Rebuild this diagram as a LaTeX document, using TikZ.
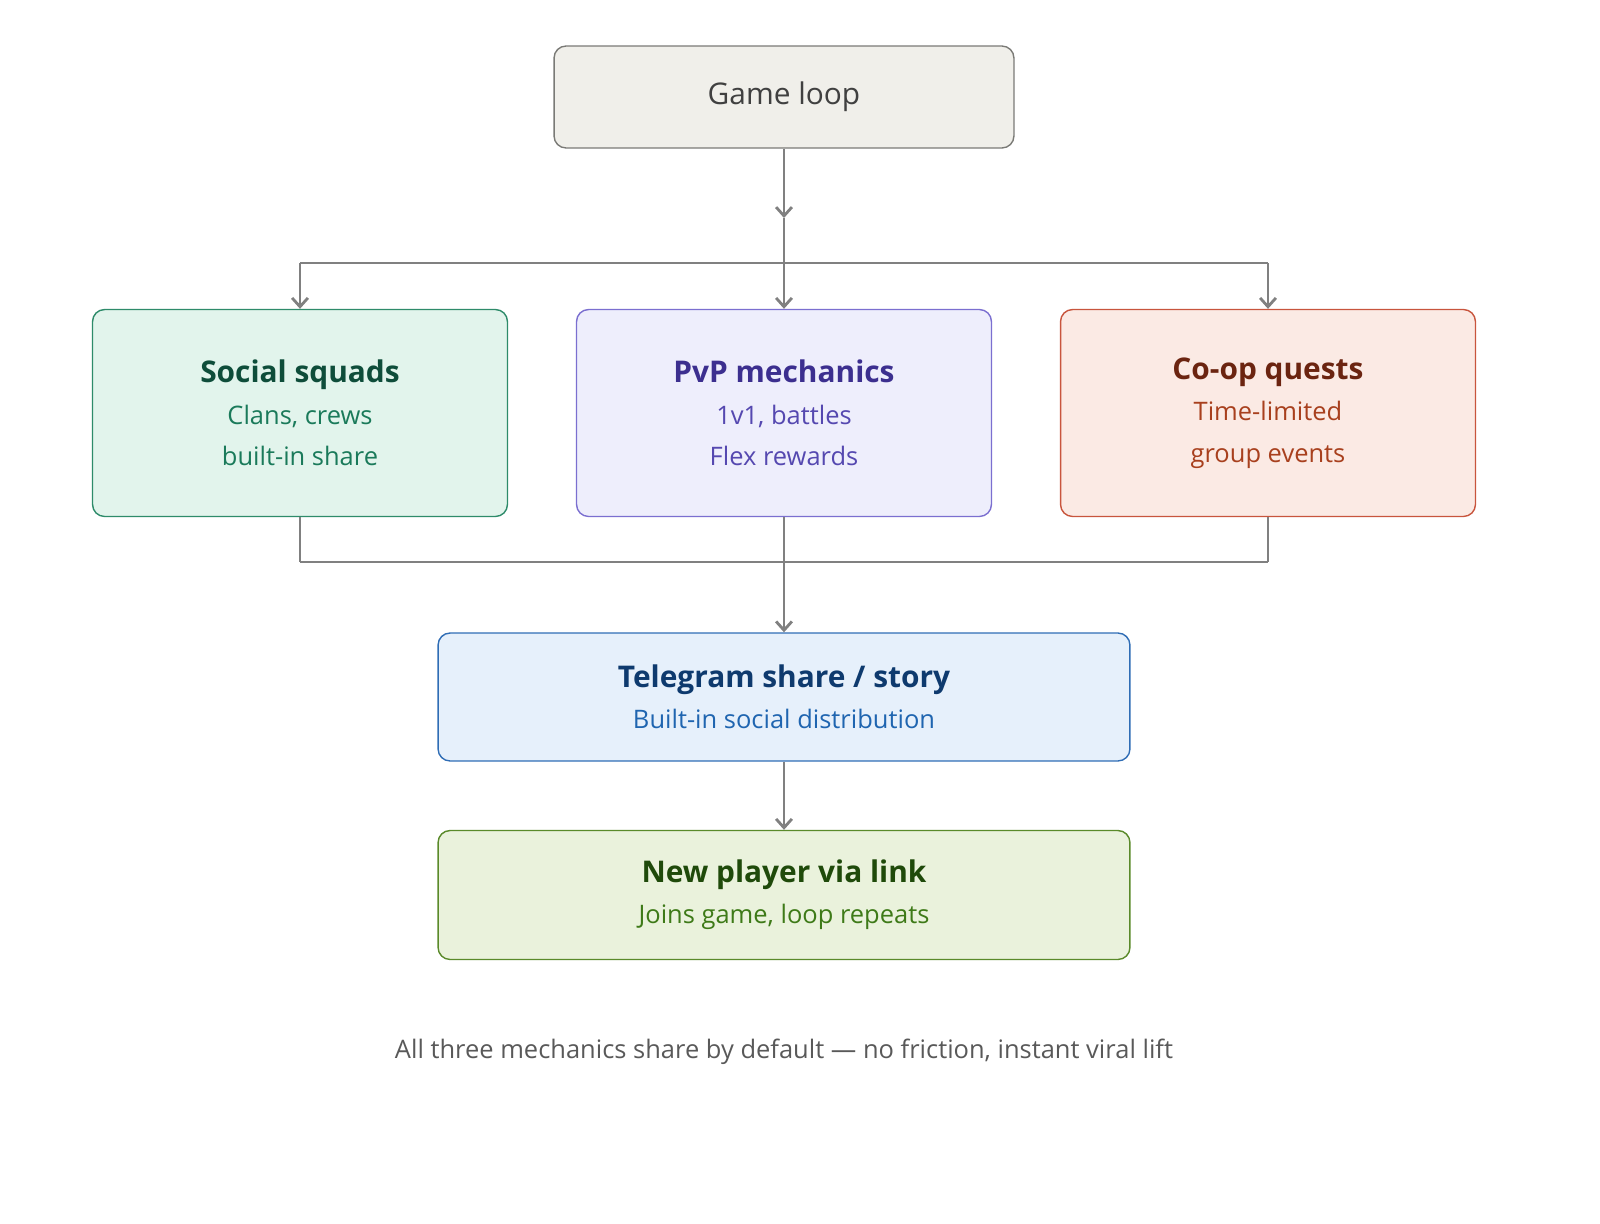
\documentclass[tikz,border=0pt]{standalone}
\usepackage{fontspec}
\setmainfont{Open Sans}
\usetikzlibrary{arrows.meta}
\definecolor{loopfill}{HTML}{F0EFEA}
\definecolor{loopline}{HTML}{7A7A76}
\definecolor{sqfill}{HTML}{E2F4EC}\definecolor{sqline}{HTML}{2E8B6A}
\definecolor{sqtitle}{HTML}{0E4D3A}\definecolor{sqtext}{HTML}{1A7A5A}
\definecolor{pvfill}{HTML}{EEEEFC}\definecolor{pvline}{HTML}{7B6FD0}
\definecolor{pvtitle}{HTML}{3C2F8F}\definecolor{pvtext}{HTML}{5548B0}
\definecolor{cofill}{HTML}{FBEAE4}\definecolor{coline}{HTML}{C8553D}
\definecolor{cotitle}{HTML}{6B2410}\definecolor{cotext}{HTML}{A8401E}
\definecolor{tgfill}{HTML}{E6F0FB}\definecolor{tgline}{HTML}{2F6DB5}
\definecolor{tgtitle}{HTML}{0E3A6E}\definecolor{tgtext}{HTML}{1F65B0}
\definecolor{npfill}{HTML}{EAF2DC}\definecolor{npline}{HTML}{5A8A2A}
\definecolor{nptitle}{HTML}{1F4A0A}\definecolor{nptext}{HTML}{3E7A18}
\definecolor{wire}{HTML}{808080}
\newcommand{\ttl}[1]{{\fontsize{17}{23.5}\selectfont\bfseries #1}}
\begin{document}
\begin{tikzpicture}[x=0.02cm,y=-0.02cm,
    box/.style={draw,rounded corners=0.24cm,align=center,line width=0.8pt,
      font=\fontsize{14.5}{23.5}\selectfont,inner sep=0pt},
    flow/.style={wire,line width=1.6pt,-{Straight Barb[length=5pt,width=9pt]}},
    link/.style={wire,line width=0.9pt}
   ]
   \useasboundingbox (0,0) rectangle (1600,1224);
   \node[box,fill=loopfill,draw=loopline,text=black!75,minimum width=9.2cm,minimum height=2.04cm] (game) at (784,97) {\fontsize{17}{23.5}\selectfont Game loop};
   \node[box,fill=sqfill,draw=sqline,text=sqtext,minimum width=8.3cm,minimum height=4.14cm] (squads) at (300,413) {\textcolor{sqtitle}{\ttl{Social squads}}\\Clans, crews\\built-in share};
   \node[box,fill=pvfill,draw=pvline,text=pvtext,minimum width=8.3cm,minimum height=4.14cm] (pvp) at (784,413) {\textcolor{pvtitle}{\ttl{PvP mechanics}}\\1v1, battles\\Flex rewards};
   \node[box,fill=cofill,draw=coline,text=cotext,minimum width=8.3cm,minimum height=4.14cm] (coop) at (1268,413) {\textcolor{cotitle}{\ttl{Co-op quests}}\\Time-limited\\group events};
   \node[box,fill=tgfill,draw=tgline,text=tgtext,minimum width=13.84cm,minimum height=2.56cm] (share) at (784,697) {\textcolor{tgtitle}{\ttl{Telegram share / story}}\\Built-in social distribution};
   \node[box,fill=npfill,draw=npline,text=nptext,minimum width=13.84cm,minimum height=2.58cm] (player) at (784,895) {\textcolor{nptitle}{\ttl{New player via link}}\\Joins game, loop repeats};
   \node[text=black!65,font=\fontsize{14.5}{18}\selectfont] (note) at (784,1052) {All three mechanics share by default — no friction, instant viral lift};

   \coordinate (split) at (784,218);
   \coordinate (top) at (784,263);
   \coordinate (join) at (784,562);
   \draw[flow] (game) -- (split);
   \draw[link] (split) -- (top) (squads.north |- top) -- (coop.north |- top);
   \foreach \n in {squads,pvp,coop}
     \draw[flow] (\n.north |- top) -- (\n.north);
   \foreach \n in {squads,pvp,coop}
     \draw[link] (\n.south) -- (\n.south |- join);
   \draw[link] (squads.south |- join) -- (coop.south |- join);
   \draw[flow] (join) -- (share.north);
   \draw[flow] (share) -- (player);
\end{tikzpicture}
\end{document}
